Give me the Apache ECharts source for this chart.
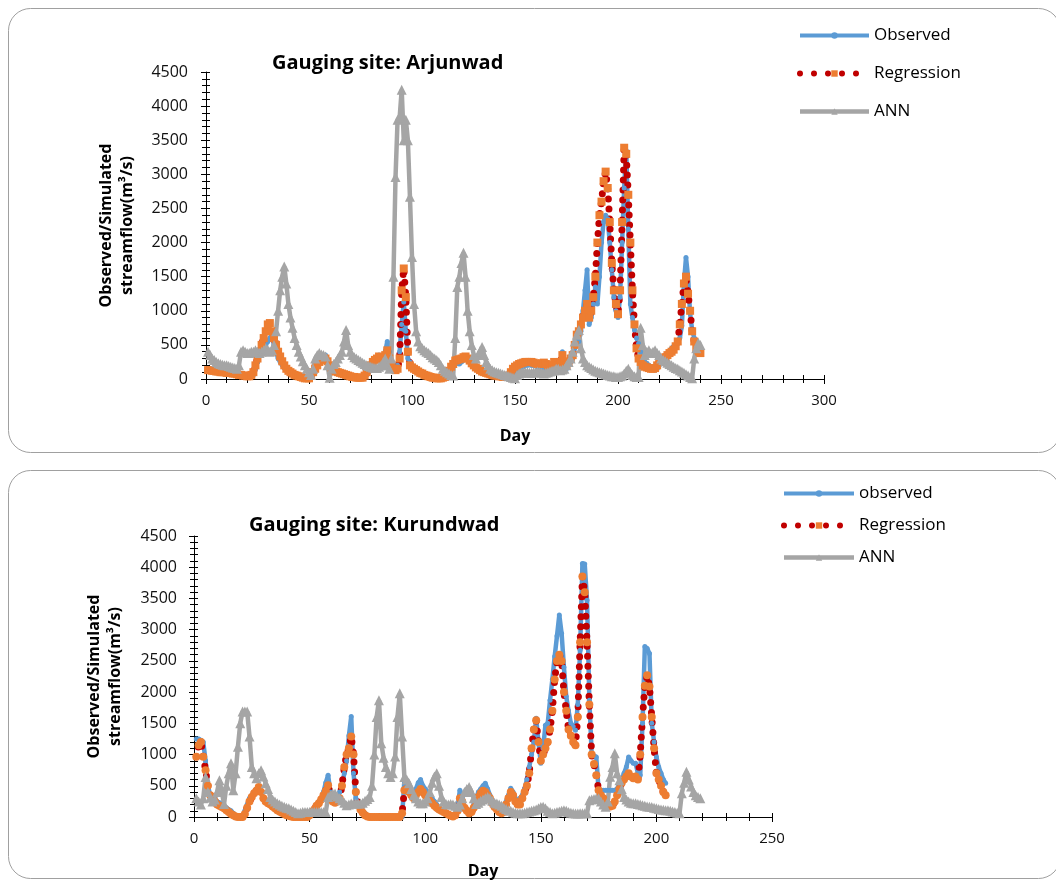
<!DOCTYPE html>
<html>
<head>
<meta charset="utf-8">
<title>Observed vs simulated streamflow</title>
<script src="https://cdn.jsdelivr.net/npm/echarts@6/dist/echarts.min.js"></script>
<style>
  html, body { margin: 0; padding: 0; background: #fff; }
  #main { width: 1056px; height: 882px; }
</style>
</head>
<body>
<div id="main"></div>
<script>
// daily values, day 1 onwards (m3/s)
const arjunwadObserved = [
  150,140,130,120,120,110,110,100,100,100, 100,90,90,90,80,80,70,60,50,50,
  40,40,60,150,250,350,400,450,500,550, 600,650,500,400,300,250,200,160,130,110,
  90,80,60,50,40,30,20,20,10,10, 30,80,150,200,250,300,330,350,250,200,
  150,130,110,100,90,80,70,60,50,40, 40,30,30,20,20,10,30,60,100,150,
  200,250,300,350,300,250,400,550,400,200, 150,150,200,400,800,1130,700,300,250,200,
  180,160,140,120,100,80,60,50,40,30, 20,20,10,10,10,20,50,100,150,200,
  250,230,220,250,280,300,280,250,200,180, 160,140,120,100,90,80,70,60,50,50,
  40,40,30,30,20,20,20,30,60,100, 130,150,170,180,200,200,210,200,200,190,
  180,170,160,150,140,130,150,200,250,200, 150,250,400,200,150,200,250,300,450,600,
  550,700,1000,1300,1600,800,900,1100,1350,1100, 1500,2000,2300,2400,2350,2000,1600,1200,1000,900,
  1200,2000,2800,3350,2200,1100,900,720,600,520, 400,300,250,230,200,180,150,130,150,200,
  250,300,350,380,400,450,480,500,520,600, 780,1400,1780,1500,960,720,600,520,450,420
];
const arjunwadRegression = [
  130,130,120,120,110,110,100,100,100,90, 90,90,80,80,70,60,60,50,50,40,
  40,60,100,200,300,400,500,600,700,800, 820,700,600,500,400,330,260,200,150,120,
  100,80,60,50,40,30,20,10,10,10, 50,100,150,200,250,280,300,300,260,200,
  160,130,110,100,90,80,70,60,50,40, 30,30,20,20,20,20,50,100,150,200,
  250,280,300,330,300,260,350,420,300,200, 150,130,150,300,1300,1620,1200,400,200,170,
  150,130,110,90,80,60,50,40,30,20, 20,10,10,10,20,30,60,120,180,220,
  270,280,290,300,320,330,300,270,230,200, 170,150,130,110,100,90,80,70,60,50,
  50,40,40,30,30,30,50,100,150,180, 200,220,230,240,250,250,250,250,240,230,
  220,220,230,240,220,200,180,200,250,220, 200,250,350,250,200,250,300,350,500,650,
  700,800,900,1000,1100,900,1000,1200,1500,2000, 2400,2600,2900,3040,2800,2300,1700,1300,1100,950,
  1300,2300,3390,3300,2700,2000,1300,800,450,300, 250,200,180,170,160,150,150,160,200,250,
  280,300,320,350,380,400,430,480,550,800, 1100,1400,1500,1250,1000,700,550,450,400,380
];
const arjunwadAnn = [
  400,350,300,280,250,230,220,210,200,200, 190,180,170,160,150,200,400,420,400,380,
  380,400,400,420,400,380,400,420,450,430, 400,420,500,700,1000,1300,1500,1650,1400,1100,
  900,750,600,500,400,330,260,200,150,100, 60,150,300,350,380,360,350,330,200,20,
  150,220,250,300,350,400,550,720,500,400, 350,320,300,280,260,240,220,200,190,180,
  170,160,160,180,200,250,300,200,150,300, 1500,2960,3800,3830,4240,3500,3800,3500,2670,1790,
  1100,700,550,480,450,420,400,380,350,320, 300,280,250,200,150,120,100,80,60,50,
  600,1350,1500,1700,1850,1500,1000,700,500,350, 300,350,400,470,350,250,200,150,130,110,
  100,90,80,70,60,50,40,30,20,10, 60,80,90,100,100,100,90,90,100,100,
  110,100,90,80,90,100,110,120,130,150, 150,130,140,150,200,250,300,400,550,650,
  720,450,300,250,200,180,160,140,120,110, 100,90,80,70,60,50,40,40,30,30,
  40,50,80,120,150,100,60,40,30,30, 750,500,350,400,420,380,400,420,380,350,
  300,280,260,240,220,200,180,160,150,130, 110,90,70,50,30,10,300,450,530,500
];

const kurundwadObserved = [
  1250,1250,1230,1200,900,500,350,300,280,250, 230,200,180,150,120,100,60,30,10,0,
  0,100,200,300,350,400,450,480,400,300, 280,250,220,200,180,150,120,100,80,60,
  50,40,30,20,10,0,0,0,0,50, 100,150,200,250,300,400,550,670,400,300,
  280,300,400,500,700,900,1300,1610,700,300, 200,150,100,60,30,10,0,0,0,0,
  0,0,0,0,0,0,0,0,0,0, 590,550,450,400,350,450,550,600,500,450,
  400,350,300,250,200,150,120,100,80,50, 30,20,50,150,430,300,150,100,80,100,
  200,300,400,450,500,540,450,350,250,200, 150,100,80,100,250,350,460,400,300,200,
  300,350,450,600,800,1000,1200,1580,1200,860, 1100,1470,1500,1870,2200,2570,2900,3235,2940,2400,
  1930,1700,1500,1450,1390,1800,2670,4060,4050,3470, 1870,1020,980,960,430,430,430,430,430,430,
  430,430,450,540,600,700,800,960,900,860, 860,700,670,1500,2730,2700,2620,1500,1200,960,
  800,700,600,540
];
const kurundwadRegression = [
  965,1150,1200,965,750,500,350,300,250,200, 180,160,140,110,80,50,30,10,0,0,
  0,50,150,250,320,380,420,480,400,300, 250,220,200,170,140,110,90,70,50,30,
  20,10,0,0,0,0,0,0,0,30, 80,120,180,220,280,350,420,510,350,250,
  230,250,300,500,800,1000,1100,1290,1000,400, 200,120,70,30,10,0,0,0,0,0,
  0,0,0,0,0,0,0,0,0,60, 430,450,400,350,300,350,400,450,400,350,
  300,260,220,180,150,120,100,80,60,40, 20,10,30,100,300,250,150,100,60,80,
  150,250,320,380,420,400,350,300,220,160, 120,80,60,80,200,300,400,350,250,200,
  200,300,400,500,700,1100,1400,1550,1200,900, 1000,1100,1200,1400,1700,2200,2500,2600,2500,2000,
  1700,1400,1300,1200,1150,1600,2800,3850,3600,2800, 1800,1000,850,670,430,350,300,250,200,170,
  180,250,350,450,550,600,650,700,650,620, 650,600,1000,1600,2100,2270,2090,1600,1100,700,
  600,500,400,350
];
const kurundwadAnn = [
  300,250,200,300,640,400,310,250,280,400, 590,400,210,500,700,860,430,700,1125,1500,
  1690,1690,1690,1290,800,700,620,700,750,650, 540,450,320,280,250,220,200,180,165,150,
  140,120,100,80,60,70,80,80,80,80, 80,80,80,80,80,80,80,320,350,375,
  375,330,300,270,230,190,200,215,215,215, 215,215,230,260,290,320,500,1000,1600,1870,
  1180,950,800,700,640,700,970,1600,1980,1290, 640,600,540,450,350,300,250,220,220,250,
  300,400,550,650,700,500,320,250,210,200, 210,200,180,165,200,300,400,450,480,400,
  300,210,230,260,280,300,320,300,260,230, 215,200,180,150,130,110,100,80,70,60,
  60,60,70,80,90,100,110,120,140,160, 165,140,100,80,60,70,80,90,100,110,
  100,80,70,60,55,55,60,60,60,60, 270,280,290,300,300,250,200,165,250,645,
  800,1020,700,590,450,320,280,250,230,220, 220,210,200,190,180,170,165,160,150,140,
  130,120,115,110,110,100,90,80,70,60, 380,550,725,600,490,400,350,320,300
];

const yMax = 4500;
const yStep = 500;
const yMinorStep = 100;
const xMaxTop = 300;
const xMaxBottom = 250;
const xStep = 50;
const xMinorStep = 10;

const FONT = 'Open Sans';
const BLUE = '#5B9BD5';
const RED = '#C00000';
const ORANGE = '#ED7D31';
const GREY = '#A5A5A5';

function byDay(values) {
  return values.map(function (v, i) { return [i + 1, v]; });
}

// four copies per axis: labelled one with outer major ticks, then inner major,
// outer minor and inner minor ticks, so the ticks cross the line like in Excel
function tickAxes(grid, max, step, minorStep, first) {
  const base = {
    type: 'value', gridIndex: grid, min: 0, max: max,
    splitLine: { show: false }
  };
  const tickOnly = { axisLine: { show: false }, axisLabel: { show: false } };
  return [
    Object.assign({}, base, first, {
      interval: step,
      axisLine: { show: true, lineStyle: { color: '#000', width: 1 } },
      axisTick: { show: true, length: 5, lineStyle: { color: '#000' } }
    }),
    Object.assign({}, base, tickOnly, {
      interval: step,
      axisTick: { show: true, inside: true, length: 5, lineStyle: { color: '#000' } }
    }),
    Object.assign({}, base, tickOnly, {
      interval: minorStep,
      axisTick: { show: true, length: 4, lineStyle: { color: '#000' } }
    }),
    Object.assign({}, base, tickOnly, {
      interval: minorStep,
      axisTick: { show: true, inside: true, length: 4, lineStyle: { color: '#000' } }
    })
  ];
}

function xAxes(grid, max, nameGap) {
  return tickAxes(grid, max, xStep, xMinorStep, {
    name: 'Day', nameLocation: 'middle', nameGap: nameGap,
    nameTextStyle: { fontFamily: FONT, fontWeight: 'bold', fontSize: 16, color: '#000' },
    axisLabel: { fontFamily: FONT, fontSize: 15, color: '#111', margin: 14 }
  });
}

function yAxes(grid, labelMargin) {
  return tickAxes(grid, yMax, yStep, yMinorStep, {
    name: 'Observed/Simulated\nstreamflow(m³/s)', nameLocation: 'middle', nameGap: 68,
    nameTextStyle: { fontFamily: FONT, fontWeight: 'bold', fontSize: 16, color: '#000', lineHeight: 21 },
    axisLabel: { fontFamily: FONT, fontSize: 16, color: '#111', margin: labelMargin,
      formatter: function (v) { return String(v); } }
  });
}

function siteSeries(obsName, obs, reg, ann, ai, regSymbol) {
  return [
    {
      name: obsName, type: 'line', xAxisIndex: ai, yAxisIndex: ai,
      data: byDay(obs), showAllSymbol: true,
      symbol: 'circle', symbolSize: 5,
      lineStyle: { color: BLUE, width: 4.5 },
      itemStyle: { color: BLUE }
    },
    {
      name: 'Regression', type: 'line', xAxisIndex: ai, yAxisIndex: ai,
      data: byDay(reg), showAllSymbol: true,
      symbol: regSymbol, symbolSize: 8,
      lineStyle: { color: RED, width: 7, type: [0, 10], cap: 'round' },
      itemStyle: { color: ORANGE, borderWidth: 0 }
    },
    {
      name: 'ANN', type: 'line', xAxisIndex: ai, yAxisIndex: ai,
      data: byDay(ann), showAllSymbol: true,
      symbol: 'triangle', symbolSize: 10,
      lineStyle: { color: GREY, width: 4.5 },
      itemStyle: { color: GREY }
    }
  ];
}

function legendItems(obsName) {
  return [
    { name: obsName, lineStyle: { color: BLUE, width: 4 } },
    { name: 'Regression', lineStyle: { color: RED, width: 6, type: [0, 14], cap: 'round' } },
    { name: 'ANN', lineStyle: { color: GREY, width: 4.5 } }
  ];
}

const chart = echarts.init(document.getElementById('main'));

const option = {
  animation: false,
  backgroundColor: '#fff',
  textStyle: { fontFamily: FONT },
  title: [
    { text: 'Gauging site: Arjunwad', left: 272, top: 53, padding: 0,
      textStyle: { fontFamily: FONT, fontWeight: 'bold', fontSize: 20, color: '#000' } },
    { text: 'Gauging site: Kurundwad', left: 249, top: 515, padding: 0,
      textStyle: { fontFamily: FONT, fontWeight: 'bold', fontSize: 20, color: '#000' } }
  ],
  legend: [
    { orient: 'vertical', left: 797, top: 27, padding: 0, itemWidth: 69, itemHeight: 8, itemGap: 21,
      data: legendItems('Observed'),
      textStyle: { fontFamily: FONT, fontSize: 17, color: '#000' } },
    { orient: 'vertical', left: 781, top: 485, padding: 0, itemWidth: 70, itemHeight: 8, itemGap: 15,
      data: legendItems('observed'),
      textStyle: { fontFamily: FONT, fontSize: 17, color: '#000' } }
  ],
  grid: [
    { left: 206, top: 72, width: 618, height: 307 },
    { left: 194, top: 536, width: 578, height: 281 }
  ],
  xAxis: xAxes(0, xMaxTop, 49).concat(xAxes(1, xMaxBottom, 46)),
  yAxis: yAxes(0, 18).concat(yAxes(1, 17)),
  graphic: [
    { type: 'rect', silent: true, z: -1,
      shape: { x: 8.5, y: 8.5, width: 1052, height: 444, r: 22 },
      style: { fill: 'none', stroke: '#a0a0a0', lineWidth: 1 } },
    { type: 'rect', silent: true, z: -1,
      shape: { x: 8.5, y: 470.5, width: 1052, height: 408, r: 22 },
      style: { fill: 'none', stroke: '#a0a0a0', lineWidth: 1 } }
  ],
  series: siteSeries('Observed', arjunwadObserved, arjunwadRegression, arjunwadAnn, 0, 'rect')
    .concat(siteSeries('observed', kurundwadObserved, kurundwadRegression, kurundwadAnn, 4, 'circle'))
};

chart.setOption(option);
window.addEventListener('resize', function () { chart.resize(); });
</script>
</body>
</html>
